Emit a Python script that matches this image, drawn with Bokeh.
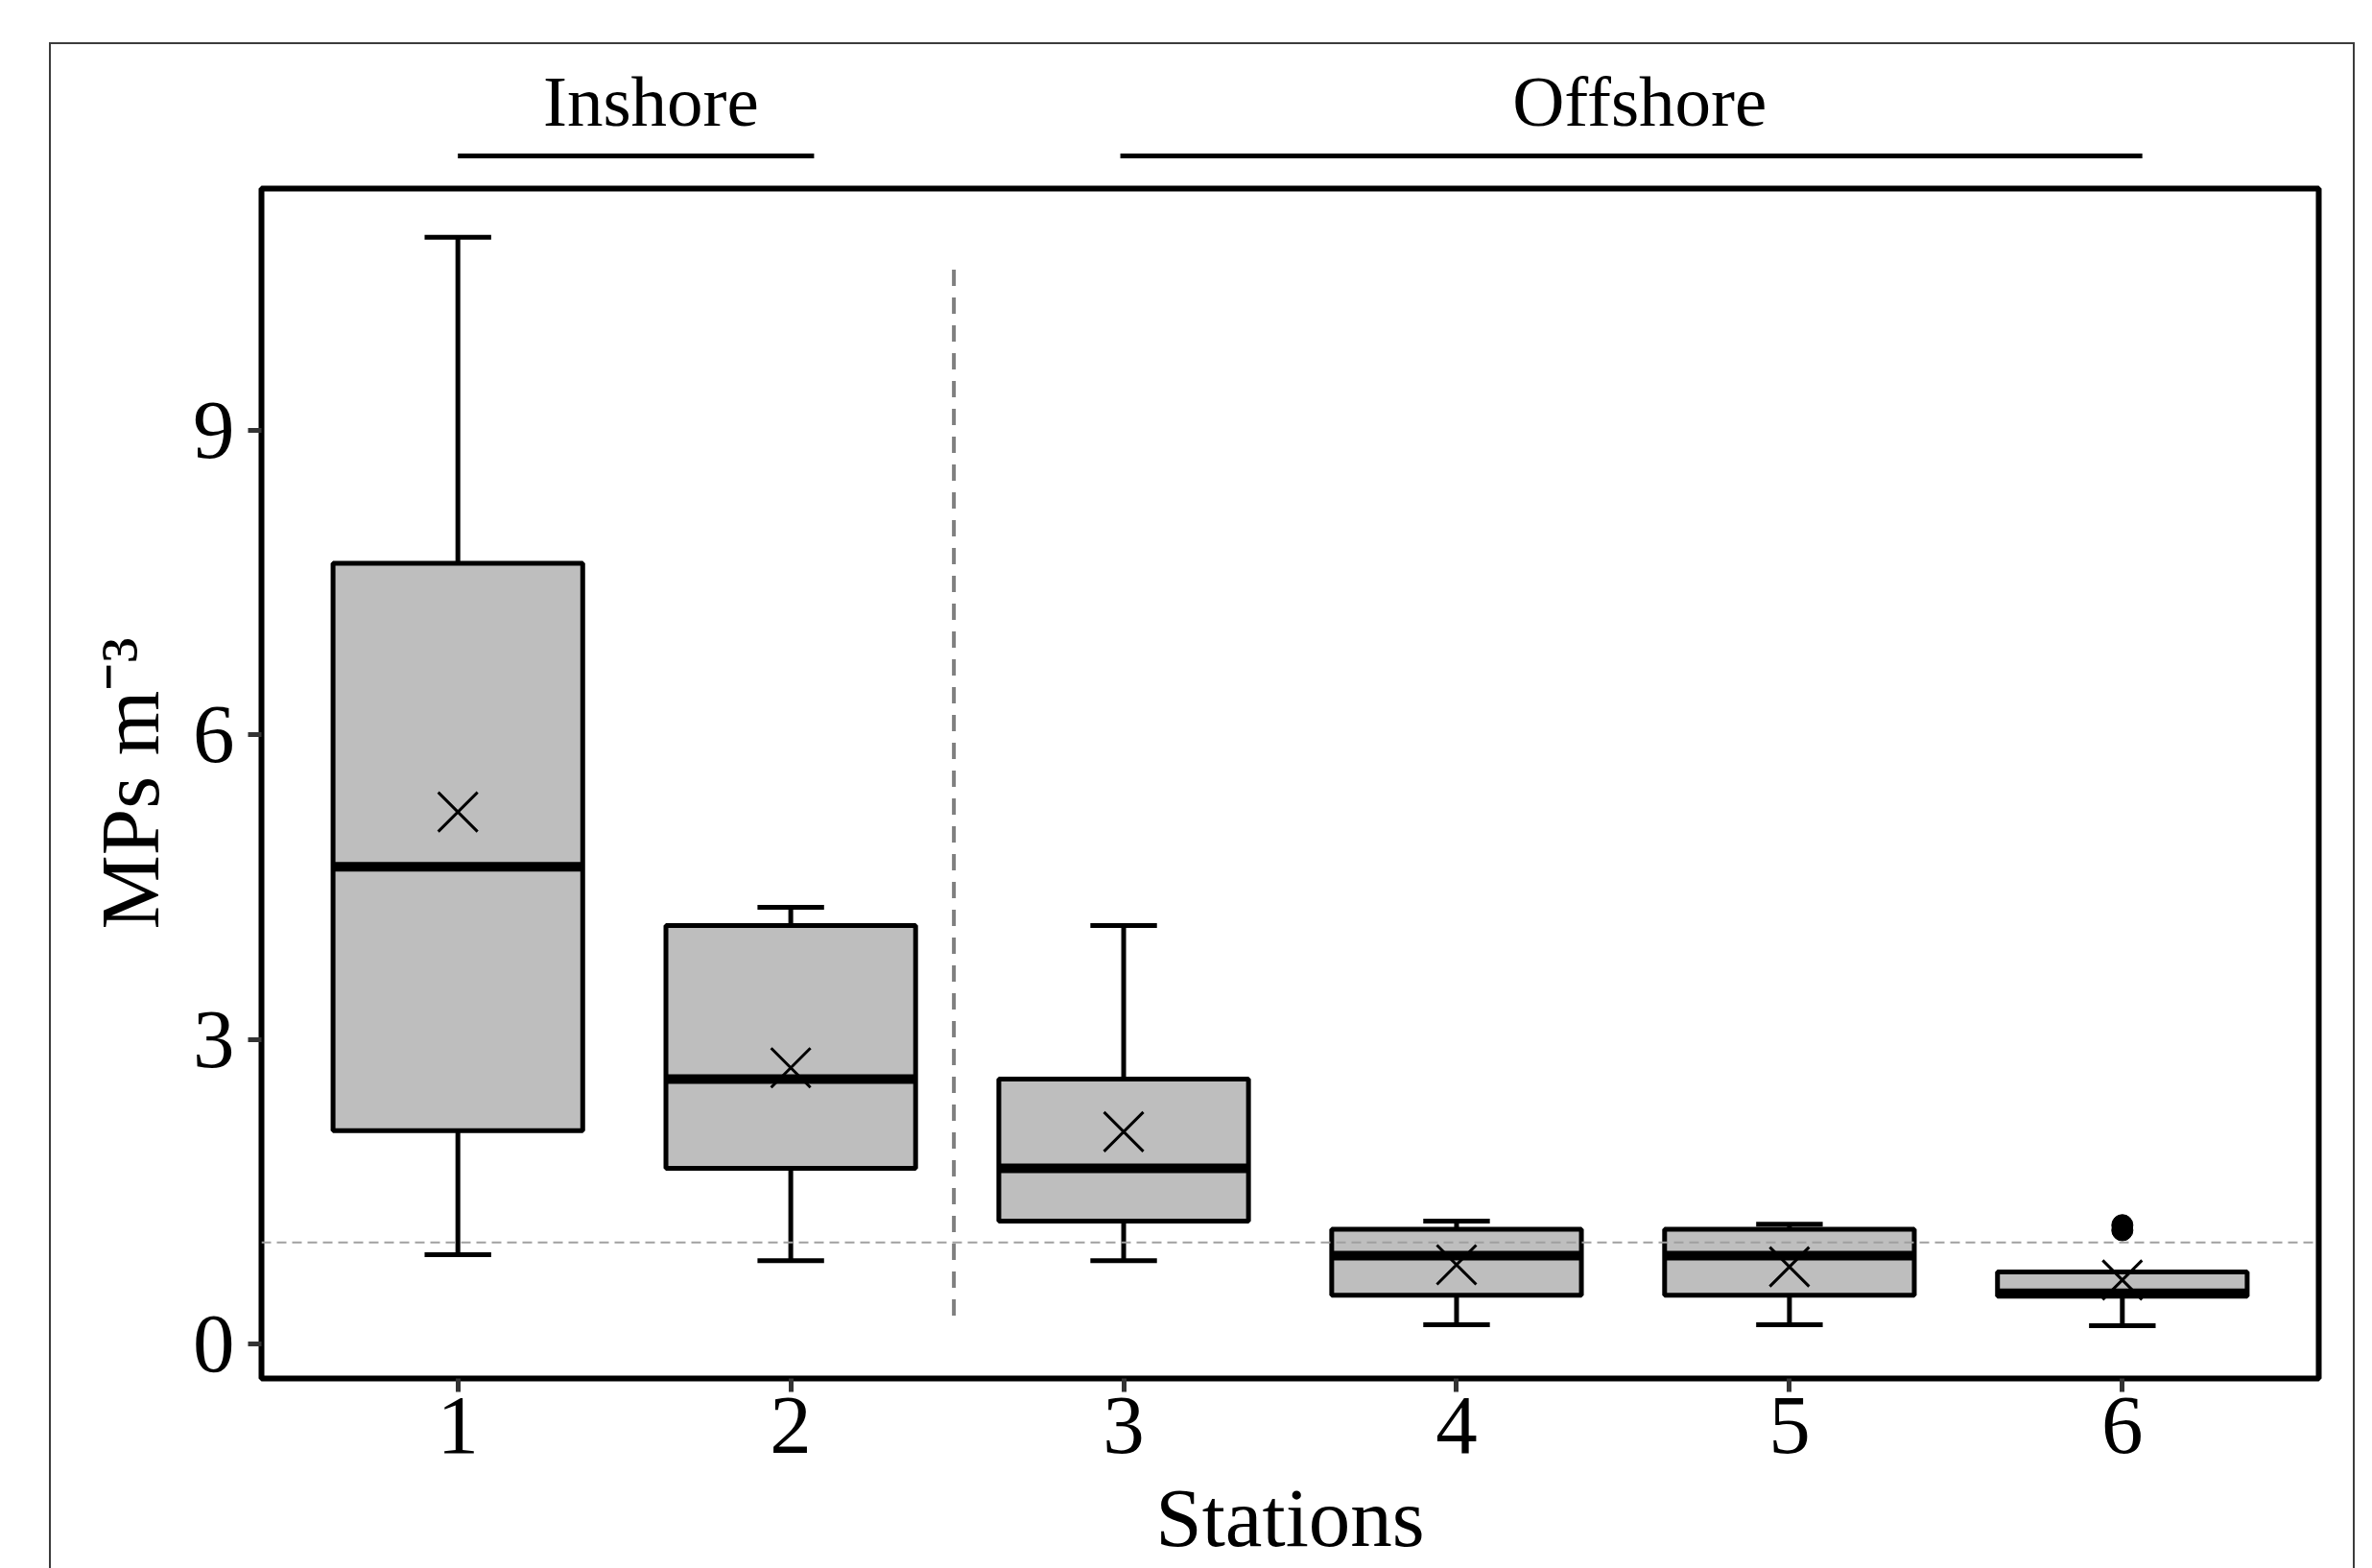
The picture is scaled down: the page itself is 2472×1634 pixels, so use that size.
from bokeh.plotting import figure
from bokeh.models import Range1d, FixedTicker, ColumnDataSource, Span
from bokeh.layouts import column
from bokeh.embed import file_html
from bokeh.resources import INLINE
from bokeh.core.properties import value

# ---- data ----
stations = [1, 2, 3, 4, 5, 6]
whisker_low = [0.88, 0.82, 0.82, 0.19, 0.19, 0.18]
q1 = [2.10, 1.73, 1.21, 0.48, 0.48, 0.47]
median = [4.70, 2.61, 1.73, 0.87, 0.87, 0.50]
q3 = [7.69, 4.12, 2.61, 1.13, 1.13, 0.71]
whisker_high = [10.90, 4.30, 4.12, 1.21, 1.18, 0.71]
means = [5.24, 2.72, 2.09, 0.78, 0.76, 0.63]
outlier_station = [6, 6]
outlier_value = [1.17, 1.12]
reference_level = 1.0
divider_x = 2.49
divider_y = [0.28, 10.6]
x_ticks = [1, 2, 3, 4, 5, 6]
y_ticks = [0, 3, 6, 9]
group_labels = ["Inshore", "Offshore"]
group_start = [1.0, 2.99]
group_end = [2.07, 6.06]
group_center = [1.58, 4.55]

BOX_W = 0.75
CAP_W = 0.2
FONT = "Liberation Serif"

src = ColumnDataSource(dict(
    x=stations, lo=whisker_low, q1=q1, med=median, q3=q3, hi=whisker_high, mean=means,
    bx0=[s - BOX_W / 2 for s in stations], bx1=[s + BOX_W / 2 for s in stations],
    cx0=[s - CAP_W / 2 for s in stations], cx1=[s + CAP_W / 2 for s in stations],
))

W = 2399
x_range = Range1d(0.41, 6.59)

# ---- main panel ----
p = figure(width=W, height=1444, x_range=x_range, y_range=Range1d(-0.34, 11.38),
           output_backend="svg", toolbar_location=None,
           min_border_left=219, min_border_right=36, min_border_top=4, min_border_bottom=200)
p.grid.visible = False
p.outline_line_color = "black"
p.outline_line_width = 6
p.background_fill_color = "white"
p.border_fill_color = "white"

# whiskers
p.segment(x0="x", y0="q3", x1="x", y1="hi", source=src, line_color="black", line_width=5)
p.segment(x0="x", y0="lo", x1="x", y1="q1", source=src, line_color="black", line_width=5)
p.segment(x0="cx0", y0="hi", x1="cx1", y1="hi", source=src, line_color="black", line_width=5)
p.segment(x0="cx0", y0="lo", x1="cx1", y1="lo", source=src, line_color="black", line_width=5)
# boxes
p.vbar(x="x", width=BOX_W, bottom="q1", top="q3", source=src,
       fill_color="#BEBEBE", line_color="black", line_width=5)
# medians
p.segment(x0="bx0", y0="med", x1="bx1", y1="med", source=src, line_color="black", line_width=10)
# outliers
p.scatter(x=outlier_station, y=outlier_value, size=22, marker="circle",
          fill_color="black", line_color="black")
# means
p.scatter(x="x", y="mean", source=src, marker="x", size=58, line_color="black", line_width=3)

# divider and reference level
p.segment(x0=[divider_x], y0=[divider_y[0]], x1=[divider_x], y1=[divider_y[1]],
          line_color="#808080", line_width=4, line_dash="17 12")
p.add_layout(Span(location=reference_level, dimension="width", line_color="#a0a0a0",
                  line_width=2, line_dash="10 6"))

for ax in (p.xaxis, p.yaxis):
    ax.axis_line_color = None
    ax.major_tick_line_color = "#333333"
    ax.major_tick_line_width = 5
    ax.major_tick_out = 14
    ax.major_tick_in = 0
    ax.minor_tick_line_color = None
    ax.major_label_text_font = FONT
    ax.major_label_text_font_size = "87px"
    ax.major_label_text_color = "black"
    ax.axis_label_text_font = FONT
    ax.axis_label_text_font_size = "87px"
    ax.axis_label_text_font_style = "normal"
    ax.axis_label_text_color = "black"

p.xaxis.ticker = FixedTicker(ticks=x_ticks)
p.yaxis.ticker = FixedTicker(ticks=y_ticks)
p.xaxis.axis_label = "Stations"
p.yaxis.axis_label = "MPs m\u207b\u00b3"
p.xaxis.major_label_standoff = 6
p.yaxis.major_label_standoff = 14
p.xaxis.axis_label_standoff = 16
p.yaxis.axis_label_standoff = 14

# ---- group labels strip above the panel ----
top = figure(width=W, height=146, x_range=x_range, y_range=Range1d(0, 146),
             output_backend="svg", toolbar_location=None,
             min_border_left=219, min_border_right=36, min_border_top=0, min_border_bottom=0)
top.axis.visible = False
top.grid.visible = False
top.outline_line_color = None
top.segment(x0=group_start, y0=[30, 30], x1=group_end, y1=[30, 30], line_color="black", line_width=5)
top.text(x=group_center, y=[87, 87], text=group_labels, text_font=value(FONT),
         text_font_size="75px", text_align="center", text_baseline="alphabetic", text_color="black")

layout = column(top, p, margin=(44, 0, 0, 51),
                styles={"border-top": "2px solid #3c3c3c",
                        "border-left": "2px solid #3c3c3c",
                        "border-right": "2px solid #3c3c3c"})

open("out.html", "w").write(file_html(layout, INLINE))
